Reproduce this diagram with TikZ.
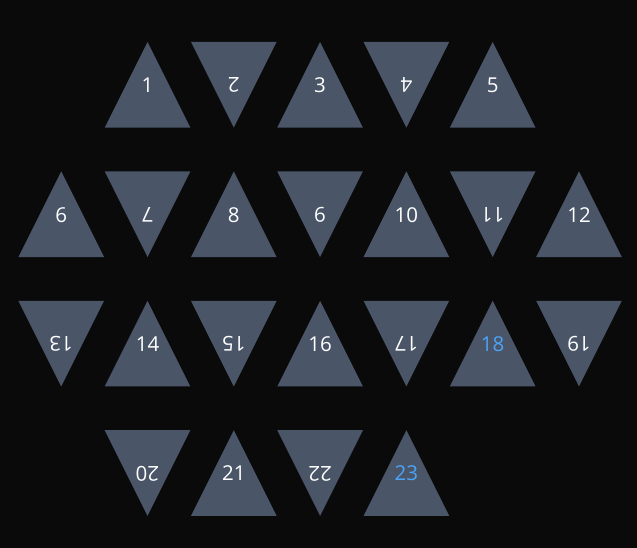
\documentclass[tikz,border=0pt]{standalone}
\usepackage{fontspec}
\setmainfont{Open Sans}
\definecolor{bg}{HTML}{0A0A0B}
\definecolor{tri}{HTML}{4A5568}
\definecolor{hl}{HTML}{4DA3F5}
\begin{document}
\begin{tikzpicture}[x=1pt,y=-1pt,
  trishape/.style={fill=tri},
  lbl/.style={inner sep=0pt,font=\fontsize{20.5}{20.5}\selectfont}]
\fill[bg] (0,0) rectangle (637,548);
\useasboundingbox (0,0) rectangle (637,548);
\foreach \n/\c/\r/\a/\col in {
  1/1/0/0/white, 2/2/0/180/white, 3/3/0/0/white, 4/4/0/180/white, 5/5/0/0/white,
  6/0/1/0/white, 7/1/1/180/white, 8/2/1/0/white, 9/3/1/180/white, 10/4/1/0/white, 11/5/1/180/white, 12/6/1/0/white,
  13/0/2/180/white, 14/1/2/0/white, 15/2/2/180/white, 16/3/2/0/white, 17/4/2/180/white, 18/5/2/0/hl, 19/6/2/180/white,
  20/1/3/180/white, 21/2/3/0/white, 22/3/3/180/white, 23/4/3/0/hl}{
  \pgfmathsetmacro\cx{61.2+86.3*\c}
  \pgfmathsetmacro\cy{84.8+129.4*\r}
  \fill[trishape, rotate around={\a:(\cx,\cy)}] (\cx,\cy-42.8) -- (\cx+42.8,\cy+42.8) -- (\cx-42.8,\cy+42.8) -- cycle;
  \node[lbl, text=\col, rotate=\a] (t\n) at (\cx,\cy+0.5) {\n};
}
\end{tikzpicture}
\end{document}
